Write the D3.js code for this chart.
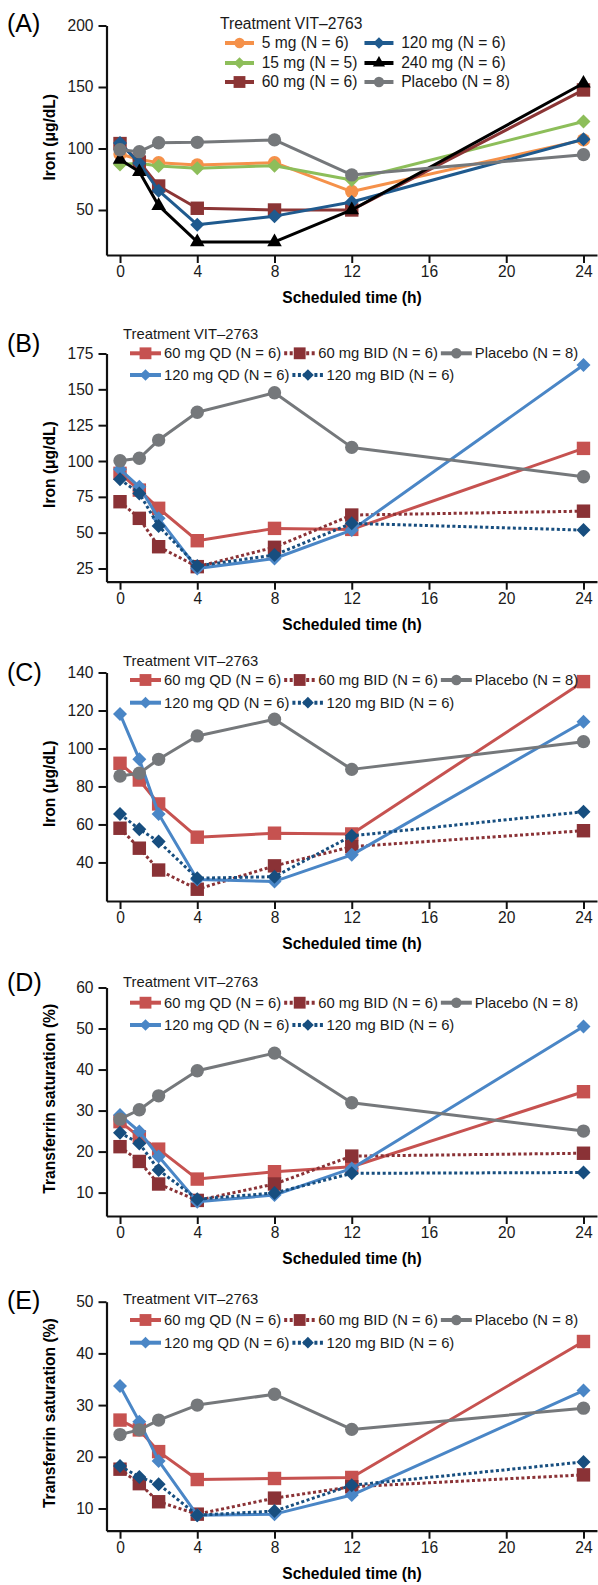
<!DOCTYPE html>
<html>
<head>
<meta charset="utf-8">
<script src="https://cdn.jsdelivr.net/npm/d3@7"></script>
<style>
  body { margin: 0; background: #fff; }
  svg { display: block; font-family: "Liberation Sans", Arial, Helvetica, sans-serif; }
</style>
</head>
<body>
<svg id="chart" width="598" height="1585"></svg>
<script>
// scheduled sampling times (h)
var hours = [0, 1, 2, 4, 8, 12, 24];
var xTicks = [0, 4, 8, 12, 16, 20, 24];

// (A) serum iron, single doses
var ironA_5mg     = [95.5, 91, 88.5, 86.6, 88.5, 65, 107];
var ironA_15mg    = [87, 88, 85.8, 84, 86, 74.4, 122];
var ironA_60mg    = [104, 89, 69.5, 51.4, 50, 50, 147.6];
var ironA_120mg   = [104.5, 88, 65.7, 38, 45, 56.5, 107.5];
var ironA_240mg   = [91, 81, 53.5, 24, 24, 50, 153];
var ironA_placebo = [99, 97.4, 104.7, 105, 107, 78.5, 95];
var labelsA = ["5 mg (N = 6)", "15 mg (N = 5)", "60 mg (N = 6)",
               "120 mg (N = 6)", "240 mg (N = 6)", "Placebo (N = 8)"];

// (B) serum iron, day 1
var ironB_60QD    = [91.4, 79.7, 67, 44.4, 53, 52.3, 108.8];
var ironB_60BID   = [71.6, 60, 40.2, 26.3, 39.8, 62.3, 65];
var ironB_120QD   = [94.2, 82, 60, 25, 32, 51.8, 167];
var ironB_120BID  = [87.2, 77.4, 54.6, 26.8, 34.4, 56.5, 51.8];
var ironB_placebo = [100.2, 101.9, 114.6, 134, 147.6, 109.5, 89];

// (C) serum iron, last day
var ironC_60QD    = [92.2, 83.4, 70.8, 53.3, 55.4, 55, 135.2];
var ironC_60BID   = [58, 47.5, 36, 25.9, 38.2, 48.3, 56.7];
var ironC_120QD   = [118.2, 94.3, 65.5, 31, 30, 44, 114.1];
var ironC_120BID  = [65.5, 57.5, 51, 31.7, 32.5, 54, 66.7];
var ironC_placebo = [85.5, 87, 94.3, 106.6, 115.4, 89, 103.6];

// (D) transferrin saturation, day 1
var tsatD_60QD    = [27.3, 23.6, 20.6, 13.3, 15.1, 16.3, 34.6];
var tsatD_60BID   = [21.2, 17.6, 12.1, 8.1, 12.1, 18.9, 19.6];
var tsatD_120QD   = [28.9, 24.9, 18.8, 7.8, 9.4, 15.9, 50.5];
var tsatD_120BID  = [24.6, 22, 15.5, 8.4, 9.9, 14.7, 14.9];
var tsatD_placebo = [27.9, 30.2, 33.6, 39.7, 44, 31.9, 25];

// (E) transferrin saturation, last day
var tsatE_60QD    = [27.1, 25.2, 21, 15.6, 15.8, 16, 42.3];
var tsatE_60BID   = [17.6, 14.8, 11.3, 8.9, 12, 14.2, 16.5];
var tsatE_120QD   = [33.7, 26.8, 19.2, 8.7, 8.9, 12.6, 32.8];
var tsatE_120BID  = [18.2, 16.1, 14.7, 8.7, 9.5, 14.5, 19];
var tsatE_placebo = [24.3, 25.2, 27.1, 30, 32.1, 25.3, 29.4];
var labelsQB = ["60 mg QD (N = 6)", "60 mg BID (N = 6)", "Placebo (N = 8)",
                "120 mg QD (N = 6)", "120 mg BID (N = 6)"];

var ticksA = [50, 100, 150, 200];
var ticksB = [25, 50, 75, 100, 125, 150, 175];
var ticksC = [40, 60, 80, 100, 120, 140];
var ticksD = [10, 20, 30, 40, 50, 60];
var ticksE = [10, 20, 30, 40, 50];

var legendTitle = "Treatment VIT\u20132763";

var diamond = {
  draw: function(ctx, size) {
    var r = Math.sqrt(size / 2);
    ctx.moveTo(0, -r); ctx.lineTo(r, 0); ctx.lineTo(0, r); ctx.lineTo(-r, 0); ctx.closePath();
  }
};
var shapes = {
  circle:   { type: d3.symbolCircle, size: 140, lsize: 85 },
  square:   { type: d3.symbolSquare, size: 180, lsize: 140 },
  diamond:  { type: diamond, size: 98, lsize: 68 },
  triangle: { type: d3.symbolTriangle, size: 92, lsize: 64 }
};

// styles for the QD/BID panels
function qbSeries(v60qd, v60bid, v120qd, v120bid, vpl) {
  return [
    { values: v60qd,  color: "#C65250", shape: "square",  dotted: false, label: labelsQB[0] },
    { values: v60bid, color: "#8A3236", shape: "square",  dotted: true,  label: labelsQB[1] },
    { values: v120qd, color: "#4A86C6", shape: "diamond", dotted: false, label: labelsQB[3] },
    { values: v120bid,color: "#174E7F", shape: "diamond", dotted: true,  label: labelsQB[4] },
    { values: vpl,    color: "#75787B", shape: "circle",  dotted: false, label: labelsQB[2] }
  ];
}

var panels = [
  { tag: "(A)", tagY: 23, top: 25.5, bottom: 255, yMin: 13.4, yMax: 200, ticks: ticksA,
    ylabel: "Iron (\u03bcg/dL)", legendY: 24, rows: [43, 63, 82], kind: "A",
    series: [
      { values: ironA_5mg,     color: "#F5914A", shape: "circle",   label: labelsA[0] },
      { values: ironA_15mg,    color: "#8DBE5A", shape: "diamond",  label: labelsA[1] },
      { values: ironA_60mg,    color: "#8B3535", shape: "square",   label: labelsA[2] },
      { values: ironA_120mg,   color: "#1F5A8E", shape: "diamond",  label: labelsA[3] },
      { values: ironA_240mg,   color: "#000000", shape: "triangle", label: labelsA[4] },
      { values: ironA_placebo, color: "#75787B", shape: "circle",   label: labelsA[5] }
    ] },
  { tag: "(B)", tagY: 343, top: 353.5, bottom: 581.7, yMin: 15.8, yMax: 175, ticks: ticksB,
    ylabel: "Iron (\u03bcg/dL)", legendY: 334, rows: [353.3, 375],
    series: qbSeries(ironB_60QD, ironB_60BID, ironB_120QD, ironB_120BID, ironB_placebo) },
  { tag: "(C)", tagY: 672, top: 672.5, bottom: 901, yMin: 19.7, yMax: 140, ticks: ticksC,
    ylabel: "Iron (\u03bcg/dL)", legendY: 660.7, rows: [680, 702.7],
    series: qbSeries(ironC_60QD, ironC_60BID, ironC_120QD, ironC_120BID, ironC_placebo) },
  { tag: "(D)", tagY: 982, top: 987.5, bottom: 1216, yMin: 4.3, yMax: 60, ticks: ticksD,
    ylabel: "Transferrin saturation (%)", legendY: 981.7, rows: [1002.7, 1025],
    series: qbSeries(tsatD_60QD, tsatD_60BID, tsatD_120QD, tsatD_120BID, tsatD_placebo) },
  { tag: "(E)", tagY: 1300, top: 1301.7, bottom: 1530.7, yMin: 5.7, yMax: 50, ticks: ticksE,
    ylabel: "Transferrin saturation (%)", legendY: 1299.3, rows: [1320, 1342.7],
    series: qbSeries(tsatE_60QD, tsatE_60BID, tsatE_120QD, tsatE_120BID, tsatE_placebo) }
];

var svg = d3.select("#chart");
var x = d3.scaleLinear().domain([-0.7, 24.7]).range([106.5, 597]);

function drawKey(g, kx, ky, len, s, lw) {
  g.append("line")
    .attr("x1", kx).attr("x2", kx + len).attr("y1", ky).attr("y2", ky)
    .attr("stroke", s.color).attr("stroke-width", lw)
    .attr("stroke-dasharray", s.dotted ? "3,2.5" : null);
  g.append("path")
    .attr("transform", "translate(" + (kx + len / 2) + "," + ky + ")")
    .attr("d", d3.symbol().type(shapes[s.shape].type).size(shapes[s.shape].lsize)())
    .attr("fill", s.color);
}

panels.forEach(function(p) {
  var y = d3.scaleLinear().domain([p.yMin, p.yMax]).range([p.bottom, p.top]);
  var g = svg.append("g");

  // axes
  var xa = g.append("g")
    .attr("transform", "translate(0," + p.bottom + ")")
    .call(d3.axisBottom(x).tickValues(xTicks).tickSize(8).tickSizeOuter(0).tickPadding(3));
  var ya = g.append("g")
    .attr("transform", "translate(106.5,0)")
    .call(d3.axisLeft(y).tickValues(p.ticks).tickSize(8).tickSizeOuter(0).tickPadding(5));
  [xa, ya].forEach(function(a) {
    a.select(".domain").attr("stroke", "#111").attr("stroke-width", 2.2);
    a.selectAll(".tick line").attr("stroke", "#111").attr("stroke-width", 2);
    a.selectAll(".tick text").attr("font-size", 15.6).attr("fill", "#1a1a1a")
      .attr("font-family", "Liberation Sans, Arial, sans-serif");
  });

  g.append("text")
    .attr("x", 352).attr("y", p.bottom + 43).attr("dy", "0.35em")
    .attr("text-anchor", "middle").attr("font-size", 15.6).attr("font-weight", "bold")
    .text("Scheduled time (h)");
  g.append("text")
    .attr("transform", "rotate(-90)")
    .attr("x", -((p.top + p.bottom) / 2 - 3)).attr("y", 50).attr("dy", "0.35em")
    .attr("text-anchor", "middle").attr("font-size", 15.6).attr("font-weight", "bold")
    .text(p.ylabel);
  g.append("text")
    .attr("x", 7).attr("y", p.tagY).attr("dy", "0.35em")
    .attr("font-size", 25).text(p.tag);

  // lines and markers
  var line = d3.line().x(function(d) { return x(d.t); }).y(function(d) { return y(d.v); });
  p.series.forEach(function(s) {
    var pts = hours.map(function(t, i) { return { t: t, v: s.values[i] }; });
    g.append("path").datum(pts)
      .attr("fill", "none").attr("stroke", s.color).attr("stroke-width", 3)
      .attr("stroke-linejoin", "round")
      .attr("stroke-dasharray", s.dotted ? "3,2.5" : null)
      .attr("d", line);
    g.selectAll(null).data(pts).enter().append("path")
      .attr("transform", function(d) { return "translate(" + x(d.t) + "," + y(d.v) + ")"; })
      .attr("d", d3.symbol().type(shapes[s.shape].type).size(shapes[s.shape].size)())
      .attr("fill", s.color);
  });

  // legend
  var lg = g.append("g");
  if (p.kind === "A") {
    lg.append("text").attr("x", 220).attr("y", p.legendY).attr("dy", "0.35em")
      .attr("font-size", 15.6).attr("fill", "#1a1a1a").text(legendTitle);
    var colW = 0;
    p.series.forEach(function(s, i) {
      var col = Math.floor(i / 3), row = i % 3;
      var kx = col === 0 ? 225 : 261.7 + colW + 7;
      drawKey(lg, kx, p.rows[row], 29, s, 4);
      var t = lg.append("text").attr("x", kx + 36.7).attr("y", p.rows[row]).attr("dy", "0.35em")
        .attr("font-size", 15.6).attr("fill", "#1a1a1a").text(s.label);
      if (col === 0) colW = Math.max(colW, t.node().getComputedTextLength());
    });
  } else {
    lg.append("text").attr("x", 123).attr("y", p.legendY).attr("dy", "0.35em")
      .attr("font-size", 14.8).attr("fill", "#1a1a1a").text(legendTitle);
    var byLabel = {};
    p.series.forEach(function(s) { byLabel[s.label] = s; });
    [[labelsQB[0], labelsQB[1], labelsQB[2]], [labelsQB[3], labelsQB[4]]].forEach(function(row, r) {
      var kx = 130;
      row.forEach(function(lab) {
        var s = byLabel[lab];
        drawKey(lg, kx, p.rows[r], 31, s, 4);
        var t = lg.append("text").attr("x", kx + 34).attr("y", p.rows[r]).attr("dy", "0.35em")
          .attr("font-size", 14.8).attr("fill", "#1a1a1a").text(lab);
        kx = kx + 34 + t.node().getComputedTextLength() + 3;
      });
    });
  }
});
</script>
</body>
</html>
